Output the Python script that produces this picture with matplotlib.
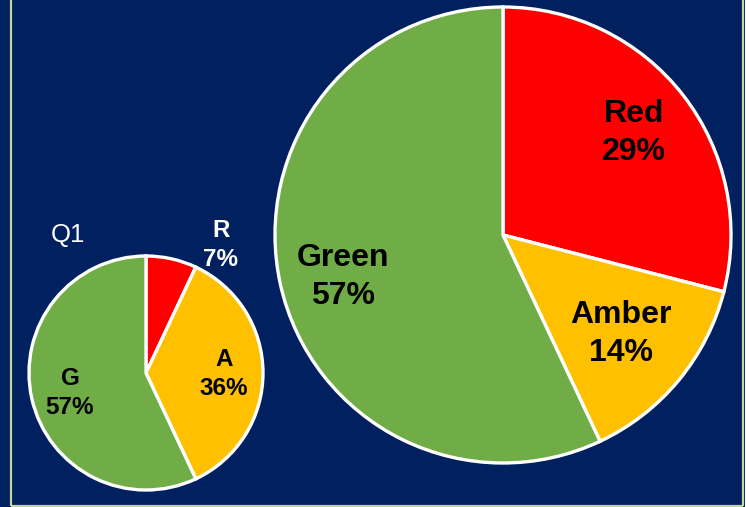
import matplotlib
matplotlib.use("Agg")
import matplotlib.pyplot as plt

plt.rcParams["font.family"] = ["Liberation Sans", "DejaVu Sans"]

# RAG status shares
labels_small = ["R", "A", "G"]
values_small = [7, 36, 57]
labels_big = ["Red", "Amber", "Green"]
values_big = [29, 14, 57]
rag_colors = ["#FF0000", "#FFC000", "#70AD47"]
small_title = "Q1"

W, H = 746, 507
NAVY = "#002060"
EDGE = "#C3D69B"

fig = plt.figure(figsize=(W / 100, H / 100), dpi=100, facecolor=NAVY)
ax = fig.add_axes([0, 0, 1, 1])
ax.set_facecolor(NAVY)


def py(y):
    # pixel row -> data y
    return H - y


wedge_style = dict(edgecolor="white", linewidth=2.4)
ax.pie(values_small, colors=rag_colors, startangle=90, counterclock=False,
       center=(146, py(373)), radius=117, wedgeprops=wedge_style)
ax.pie(values_big, colors=rag_colors, startangle=90, counterclock=False,
       center=(503, py(235)), radius=228, wedgeprops=wedge_style)

ax.set_xlim(0, W)
ax.set_ylim(0, H)
ax.set_aspect("equal")
ax.axis("off")

# small pie labels
small_font = dict(fontsize=17.5, fontweight="bold", ha="center", va="center", linespacing=1.38)
ax.text(68, py(235), small_title, color="white", fontsize=18.5, ha="center", va="center")
ax.text(221, py(245), f"{labels_small[0]}\n{values_small[0]}%", color="white", **small_font)
ax.text(224, py(374), f"{labels_small[1]}\n{values_small[1]}%", color="black", **small_font)
ax.text(70, py(393), f"{labels_small[2]}\n{values_small[2]}%", color="black", **small_font)

# big pie labels
big_font = dict(fontsize=23, fontweight="bold", ha="center", va="center", linespacing=1.36)
ax.text(634, py(133), f"{labels_big[0]}\n{values_big[0]}%", color="black", **big_font)
ax.text(621, py(334), f"{labels_big[1]}\n{values_big[1]}%", color="black", **big_font)
ax.text(343, py(277), f"{labels_big[2]}\n{values_big[2]}%", color="black", **big_font)

# slide frame
ax.plot([11, 11], [py(0), py(506)], color=EDGE, lw=1.6, solid_capstyle="butt")
ax.plot([743, 743], [py(0), py(506)], color=EDGE, lw=1.6, solid_capstyle="butt")
ax.plot([11, 743], [py(506), py(506)], color=EDGE, lw=1.6, solid_capstyle="butt")
ax.axvspan(745, W, color="white", lw=0)

fig.savefig("out.png", dpi=100, facecolor=NAVY)
